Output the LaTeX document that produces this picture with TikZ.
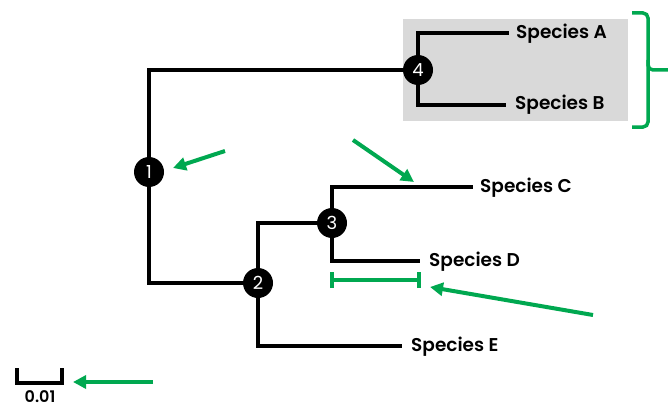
\documentclass[tikz,border=0pt]{standalone}
\usepackage{fontspec}
\setmainfont{Poppins}[BoldFont={Poppins SemiBold}]
\usetikzlibrary{arrows.meta}
\definecolor{hlgreen}{RGB}{0,168,80}
\definecolor{boxgrey}{RGB}{217,217,217}
\tikzset{
  branch/.style    = {line width=4.5pt, line cap=rect},
  inode/.style     = {circle, fill=black, minimum size=30pt, inner sep=0pt,
                      text=white, font=\fontsize{18}{18}\selectfont},
  species/.style   = {anchor=west, inner sep=0pt, font=\fontsize{18.5}{19}\selectfont\bfseries},
  pointer/.style   = {hlgreen, line width=4pt, -{Triangle[length=13pt,width=13pt]}},
  greenline/.style = {hlgreen, line width=3.5pt},
}
\begin{document}
\begin{tikzpicture}[x=1pt, y=-1pt]
        \useasboundingbox (0,0) rectangle (668,409);
        % grey box round the A/B clade
        \fill[boxgrey] (403,19) rectangle (628,121);
        % leaf tips
        \coordinate (tipA) at (507, 33);
        \coordinate (tipB) at (504,105);
        \coordinate (tipC) at (471,187);
        \coordinate (tipD) at (418,261);
        \coordinate (tipE) at (400,346);
        % internal nodes
        \coordinate (p1) at (149,172);
        \coordinate (p2) at (258,283);
        \coordinate (p3) at (332,223);
        \coordinate (p4) at (418, 70);
        % branches
        \draw[branch] (p4) |- (p1 |- p4) -- (p1 |- p2) -- (p2);
        \draw[branch] (p3) -- (p2 |- p3) -- (p2 |- tipE) -- (tipE);
        \draw[branch] (tipC) -- (p3 |- tipC) -- (p3 |- tipD) -- (tipD);
        \draw[branch] (tipA) -- (p4 |- tipA) -- (p4 |- tipB) -- (tipB);
        \node[inode] (n1) at (p1) {1};
        \node[inode] (n2) at (p2) {2};
        \node[inode] (n3) at (p3) {3};
        \node[inode] (n4) at (p4) {4};
        % labels
        \node[species] (spA) at (516, 34) {Species A};
        \node[species] (spB) at (515,105) {Species B};
        \node[species] (spC) at (480,188) {Species C};
        \node[species] (spD) at (429,262) {Species D};
        \node[species] (spE) at (411,347) {Species E};
        % bracket for the clade
        \draw[greenline, rounded corners=5pt]
              (632,13) -- (648,13) -- (648,70) -- (668,70);
        \draw[greenline, rounded corners=5pt]
              (648,60) -- (648,127) -- (632,127);
        % branch length bar
        \coordinate (barL) at (332,280);
        \coordinate (barR) at (419,280);
        \draw[greenline] (barL) -- (barR);
        \draw[greenline] ([yshift=-8pt]barL) -- ([yshift=8pt]barL);
        \draw[greenline] ([yshift=-8pt]barR) -- ([yshift=8pt]barR);
        % scale bar
        \coordinate (sbL) at (17,383);
        \coordinate (sbR) at (62,383);
        \draw[line width=4.5pt] ([yshift=15pt]sbL) -- (sbL) -- (sbR) -- ([yshift=15pt]sbR);
        \node[font=\fontsize{16}{16}\selectfont\bfseries, anchor=base, inner sep=0pt] (scale) at (40,402) {0.01};
        % pointers
        \coordinate (from1) at (225,151);
        \coordinate (fromC) at (353,140);
        \coordinate (fromBar) at (593,315);
        \coordinate (fromSc) at (153,382);
        \draw[pointer] (from1) -- (173,168);
        \draw[pointer] (fromC) -- (414,182);
        \draw[pointer] (fromBar) -- (430,287);
        \draw[pointer] (fromSc) -- (73,382);
\end{tikzpicture}
\end{document}
